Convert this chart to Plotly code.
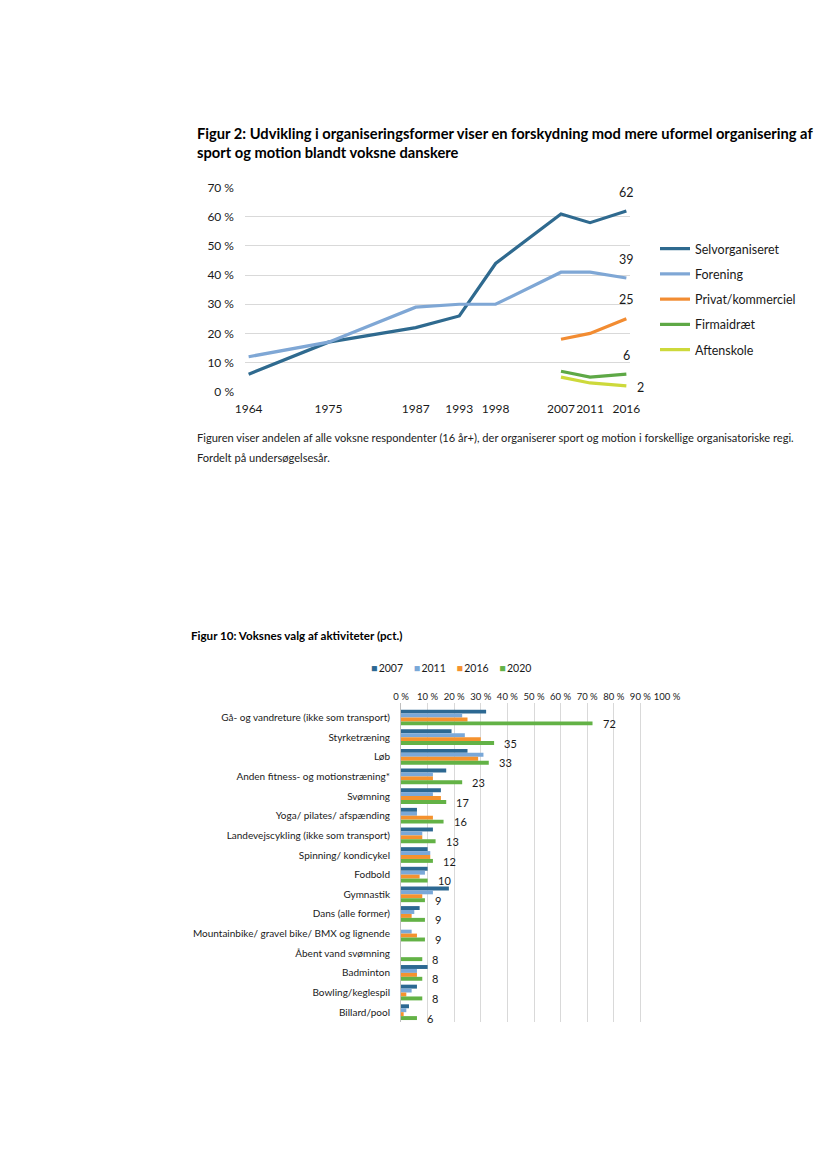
import plotly.graph_objects as go

W, H = 827, 1169
OFF = 8  # page body margin added by the browser
FONT = "Lato"
TXT = "#1a1a1a"

# ---------- Figure 2 data ----------
years = [1964, 1975, 1987, 1993, 1998, 2007, 2011, 2016]
years_new = [2007, 2011, 2016]
selvorganiseret = [6, 17, 22, 26, 44, 61, 58, 62]
forening = [12, 17, 29, 30, 30, 41, 41, 39]
privat = [18, 20, 25]
firmaidraet = [7, 5, 6]
aftenskole = [5, 3, 2]
line_names = ["Selvorganiseret", "Forening", "Privat/kommerciel", "Firmaidræt", "Aftenskole"]
line_colors = ["#2F6A8F", "#7FA7D5", "#F28C32", "#5EA846", "#CDD93B"]
end_labels = [62, 39, 25, 6, 2]

# ---------- Figur 10 data ----------
activities = [
    "Gå- og vandreture (ikke som transport)",
    "Styrketræning",
    "Løb",
    "Anden fitness- og motionstræning*",
    "Svømning",
    "Yoga/ pilates/ afspænding",
    "Landevejscykling (ikke som transport)",
    "Spinning/ kondicykel",
    "Fodbold",
    "Gymnastik",
    "Dans (alle former)",
    "Mountainbike/ gravel bike/ BMX og lignende",
    "Åbent vand svømning",
    "Badminton",
    "Bowling/keglespil",
    "Billard/pool",
]
v2007 = [32, 19, 25, 17, 15, 6, 12, 10, 10, 18, 7, None, None, 10, 6, 3]
v2011 = [23, 24, 31, 12, 12, 6, 8, 11, 9, 12, 5, 4, None, 6, 4, 2]
v2016 = [25, 30, 29, 12, 15, 12, 8, 11, 7, 8, 4, 6, None, 6, 2, 1]
v2020 = [72, 35, 33, 23, 17, 16, 13, 12, 10, 9, 9, 9, 8, 8, 8, 6]
labels2020 = [72, 35, 33, 23, 17, 16, 13, 12, 10, 9, 9, 9, 8, 8, 8, 6]
bar_years = ["2007", "2011", "2016", "2020"]
bar_colors = ["#2C6892", "#7AA8D8", "#F5922E", "#63B246"]
x_ticks = [0, 10, 20, 30, 40, 50, 60, 70, 80, 90, 100]


def px_x(p):
    return (p - OFF) / W


def px_y(p):
    return 1 - (p - OFF) / H


fig = go.Figure()

# top line chart
series = [(years, selvorganiseret), (years, forening), (years_new, privat),
          (years_new, firmaidraet), (years_new, aftenskole)]
for (xs, ys), name, col in zip(series, line_names, line_colors):
    fig.add_trace(go.Scatter(
        x=xs, y=ys, mode="lines", name=name,
        line=dict(color=col, width=3.2),
        xaxis="x", yaxis="y", legend="legend", legendgroup=name,
        hoverinfo="skip",
    ))

# bottom bar chart
for yr, vals, col in zip(bar_years, [v2007, v2011, v2016, v2020], bar_colors):
    fig.add_trace(go.Bar(
        y=activities, x=vals, name=yr, orientation="h",
        marker=dict(color=col, line=dict(width=0)),
        xaxis="x2", yaxis="y2", showlegend=False,
        hoverinfo="skip",
    ))

annotations = []
# end labels on top chart
end_vals = [selvorganiseret[-1], forening[-1], privat[-1], firmaidraet[-1], aftenskole[-1]]
for lab, v in zip(end_labels[:4], end_vals[:4]):
    annotations.append(dict(x=years[-1], y=v, xref="x", yref="y", text=str(lab),
                            showarrow=False, yshift=19,
                            font=dict(family=FONT, size=12.5, color=TXT)))
annotations.append(dict(x=years[-1], y=end_vals[4], xref="x", yref="y", text=str(end_labels[4]),
                        showarrow=False, xshift=14, yshift=-2,
                        font=dict(family=FONT, size=12.5, color=TXT)))

# value labels for 2020 bars
for act, v, lab in zip(activities, v2020, labels2020):
    annotations.append(dict(x=v, y=act, xref="x2", yref="y2", text=str(lab),
                            showarrow=False, xanchor="left", xshift=8, yshift=-6,
                            font=dict(family=FONT, size=11, color=TXT)))

# compact legend for the bar chart
legend_txt = "&nbsp;&nbsp;&nbsp;&nbsp;".join(
    f"<span style='color:{c}'>■</span>&#8201;{y}" for y, c in zip(bar_years, bar_colors))
annotations.append(dict(x=px_x(369), y=px_y(668), xref="paper", yref="paper",
                        xanchor="left", yanchor="middle", showarrow=False,
                        text=legend_txt, font=dict(family=FONT, size=10.5, color=TXT)))

# titles and caption
annotations += [
    dict(x=px_x(195), y=px_y(122), xref="paper", yref="paper", xanchor="left", yanchor="top",
         align="left", showarrow=False,
         text="<b>Figur 2: Udvikling i organiseringsformer viser en forskydning mod mere uformel organisering af</b><br>"
              "<b>sport og motion blandt voksne danskere</b>",
         font=dict(family=FONT, size=14.7, color="#000000")),
    dict(x=px_x(195), y=px_y(437), xref="paper", yref="paper", xanchor="left", yanchor="middle",
         align="left", showarrow=False,
         text="Figuren viser andelen af alle voksne respondenter (16 år+), der organiserer sport og motion i forskellige organisatoriske regi.",
         font=dict(family=FONT, size=11.1, color="#222222")),
    dict(x=px_x(195), y=px_y(457), xref="paper", yref="paper", xanchor="left", yanchor="middle",
         align="left", showarrow=False,
         text="Fordelt på undersøgelsesår.",
         font=dict(family=FONT, size=11.1, color="#222222")),
    dict(x=px_x(189), y=px_y(627), xref="paper", yref="paper", xanchor="left", yanchor="top",
         align="left", showarrow=False,
         text="<b>Figur 10: Voksnes valg af aktiviteter (pct.)</b>",
         font=dict(family=FONT, size=11.6, color="#000000")),
]

fig.update_layout(
    template="none",
    width=W, height=H,
    margin=dict(l=0, r=0, t=0, b=0, autoexpand=False),
    paper_bgcolor="white", plot_bgcolor="white",
    font=dict(family=FONT, color=TXT),
    showlegend=True,
    barmode="group", bargap=0.2, bargroupgap=0,
    annotations=annotations,
    xaxis=dict(domain=[px_x(245), px_x(630)], range=[1963.5, 2016.5],
               tickmode="array", tickvals=years, ticktext=[str(y) for y in years],
               tickangle=0, automargin=False, ticklabelstandoff=8,
               showgrid=False, zeroline=False, showline=False, ticks="",
               tickfont=dict(family=FONT, size=12, color=TXT), anchor="y"),
    yaxis=dict(domain=[px_y(391.7), px_y(187.7)], range=[0, 70], dtick=10,
               ticksuffix=" %", showgrid=True, gridcolor="#D9D9D9", gridwidth=1,
               zeroline=False, showline=False, ticks="", ticklabelstandoff=10,
               automargin=False,
               tickfont=dict(family=FONT, size=12, color=TXT), anchor="x"),
    xaxis2=dict(domain=[px_x(401), px_x(667)], range=[0, 100], side="top",
                tickmode="array", tickvals=x_ticks, ticktext=[f"{t} %" for t in x_ticks],
                tickangle=0, automargin=False,
                showgrid=True, gridcolor="#D9D9D9", gridwidth=1.3, zeroline=False,
                showline=False, ticks="", anchor="y2",
                tickfont=dict(family=FONT, size=9.5, color=TXT)),
    yaxis2=dict(domain=[px_y(1022), px_y(703)], autorange="reversed",
                showline=True, linecolor="#BFBFBF", linewidth=1,
                showgrid=False, zeroline=False, ticks="", anchor="x2",
                ticklabelstandoff=8, automargin=False,
                tickfont=dict(family=FONT, size=10, color=TXT)),
    legend=dict(x=px_x(655), y=px_y(234), xanchor="left", yanchor="top",
                orientation="v", tracegroupgap=6, itemwidth=30,
                font=dict(family=FONT, size=12.5, color=TXT), bgcolor="rgba(0,0,0,0)"),
)

fig.write_html("out.html")
